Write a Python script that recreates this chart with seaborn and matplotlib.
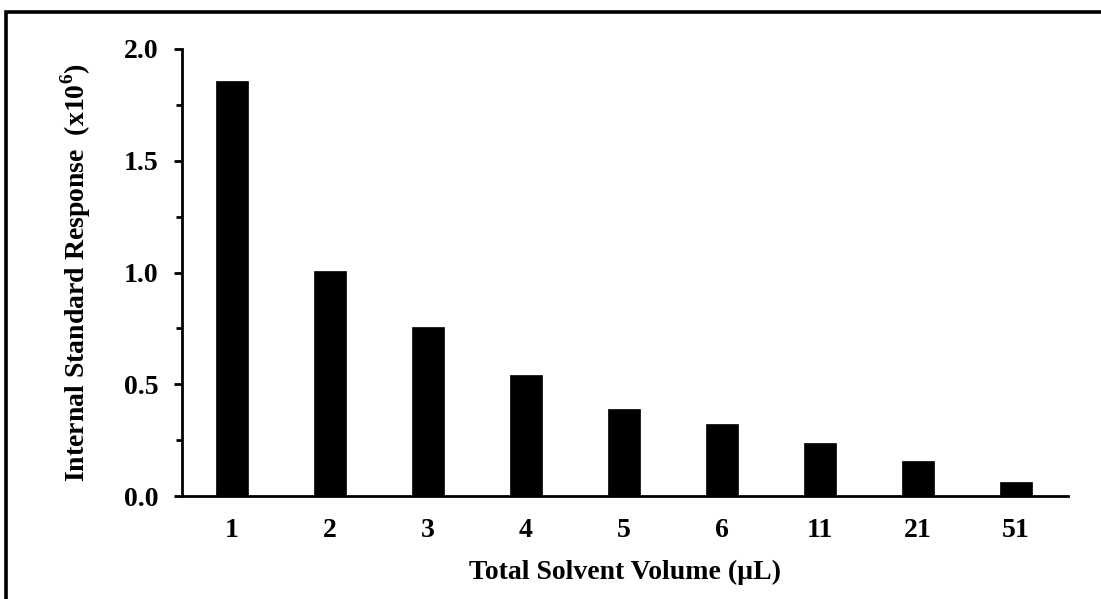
import matplotlib
matplotlib.use("Agg")
import matplotlib.pyplot as plt
from matplotlib.patches import Rectangle
from matplotlib.ticker import MultipleLocator, FormatStrFormatter
import pandas as pd
import seaborn as sns

# Total solvent volume (µL) and internal standard response (x10^6)
volumes = ["1", "2", "3", "4", "5", "6", "11", "21", "51"]
response = [1.857, 1.005, 0.757, 0.541, 0.388, 0.322, 0.237, 0.158, 0.063]

df = pd.DataFrame({"volume": volumes, "response": response})

sns.set_theme(style="ticks")
plt.rcParams["font.family"] = ["Liberation Serif", "DejaVu Serif"]
plt.rcParams["font.weight"] = "bold"
plt.rcParams["mathtext.fontset"] = "custom"
plt.rcParams["mathtext.rm"] = "Liberation Serif"
plt.rcParams["mathtext.bf"] = "Liberation Serif:bold"

W, H = 1101, 599
fig = plt.figure(figsize=(W / 100, H / 100), dpi=100)
ax = fig.add_axes([182 / W, 103 / H, 886 / W, 447 / H])

sns.barplot(data=df, x="volume", y="response", order=volumes, color="black",
            width=0.32, edgecolor="black", linewidth=0.5, saturation=1, ax=ax)

ax.set_ylim(0, 2.0)
ax.set_xlim(-0.51, 8.53)
ax.yaxis.set_major_locator(MultipleLocator(0.5))
ax.yaxis.set_minor_locator(MultipleLocator(0.25))
ax.yaxis.set_major_formatter(FormatStrFormatter("%.1f"))

for side in ("top", "right"):
    ax.spines[side].set_visible(False)
for side in ("left", "bottom"):
    ax.spines[side].set_linewidth(2.0)
    ax.spines[side].set_color("black")

FS = 20
ax.tick_params(axis="y", which="major", direction="out", length=6, width=2.0,
               labelsize=FS, pad=11, colors="black")
ax.tick_params(axis="y", which="minor", direction="out", length=4, width=2.0,
               colors="black")
ax.tick_params(axis="x", length=0, labelsize=FS, pad=16, colors="black")
for lbl in ax.get_xticklabels() + ax.get_yticklabels():
    lbl.set_fontweight("bold")

ax.set_xlabel("Total Solvent Volume (µL)", fontsize=FS, fontweight="bold",
              labelpad=12, color="black")
ax.set_ylabel(r"Internal Standard Response  (x10$^{\mathbf{6}}$)", fontsize=FS,
              fontweight="bold", labelpad=22, color="black")

# frame lines along the top and left of the figure
fig.patches.append(Rectangle((6.5 / W, -0.1), 1.2, 1.1 - 12 / H,
                             transform=fig.transFigure, fill=False,
                             edgecolor="black", linewidth=2.6))

fig.savefig("out.png", dpi=100)
